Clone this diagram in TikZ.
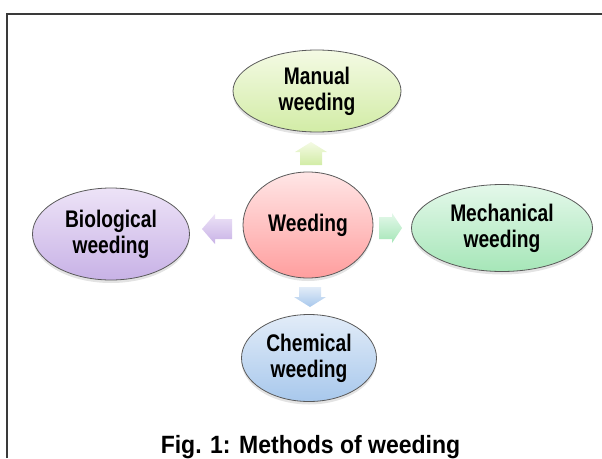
\documentclass[tikz,border=0pt]{standalone}
\usepackage{fontspec}
\setmainfont{Liberation Sans}
\newfontfamily\nodefont{Liberation Sans}[FakeStretch=0.8]
\newfontfamily\capfont{Liberation Sans}[FakeStretch=0.92]
\usetikzlibrary{shapes.geometric,shadows}
\definecolor{manT}{HTML}{F4FAE4}\definecolor{manB}{HTML}{D2ECA6}
\definecolor{weeT}{HTML}{FFE6E6}\definecolor{weeB}{HTML}{FF9E9E}
\definecolor{bioT}{HTML}{EDE3F7}\definecolor{bioB}{HTML}{C8B2E6}
\definecolor{mecT}{HTML}{E4F8EA}\definecolor{mecB}{HTML}{A6E6B8}
\definecolor{cheT}{HTML}{E2ECF8}\definecolor{cheB}{HTML}{A8C8EC}
\definecolor{edgecol}{HTML}{5A5A5A}
\definecolor{framecol}{HTML}{3A3A3A}
\tikzset{
  meth/.style={ellipse, draw=edgecol, line width=0.8pt, inner sep=0pt, outer sep=0pt, align=center,
    text=black, font=\nodefont\bfseries\fontsize{24}{26}\selectfont,
    drop shadow={shadow xshift=0pt, shadow yshift=-3pt, opacity=0.22}},
  blockarrow/.style={draw=none}
}
\begin{document}
\begin{tikzpicture}[x=1pt,y=-1pt]
\useasboundingbox (0,0) rectangle (602,458);
\draw[line width=1.8pt, framecol] (7,458) -- (7,14) -- (602,14);
\node[meth, minimum width=168pt, minimum height=82pt, top color=manT, bottom color=manB] (manual) at (317,91) {Manual\\weeding};
\node[meth, minimum width=130pt, minimum height=106pt, top color=weeT, bottom color=weeB] (weeding) at (308,225) {Weeding};
\node[meth, minimum width=157pt, minimum height=92pt, top color=bioT, bottom color=bioB] (bio) at (111,234) {Biological\\weeding};
\node[meth, minimum width=181pt, minimum height=87pt, top color=mecT, bottom color=mecB] (mech) at (502,228) {Mechanical\\weeding};
\node[meth, minimum width=135pt, minimum height=87pt, top color=cheT, bottom color=cheB] (chem) at (309,358) {Chemical\\weeding};
% block arrows
\path[blockarrow, top color=manT, bottom color=manB] (311,142) -- (327,152) -- (322,152) -- (322,165) -- (300,165) -- (300,152) -- (295,152) -- cycle;
\path[blockarrow, top color=cheT, bottom color=cheB] (310,307) -- (326,297) -- (321,297) -- (321,287) -- (299,287) -- (299,297) -- (294,297) -- cycle;
\path[blockarrow, top color=bioT, bottom color=bioB] (202,229) -- (215,214) -- (215,219) -- (232,219) -- (232,239) -- (215,239) -- (215,244) -- cycle;
\path[blockarrow, top color=mecT, bottom color=mecB] (402,228) -- (392,213) -- (392,217) -- (379,217) -- (379,239) -- (392,239) -- (392,243) -- cycle;
\node[anchor=base, inner sep=0pt, font=\capfont\bfseries\fontsize{25}{30}\selectfont] (caption) at (310.5,453) {Fig. 1: Methods of weeding};
\end{tikzpicture}
\end{document}
